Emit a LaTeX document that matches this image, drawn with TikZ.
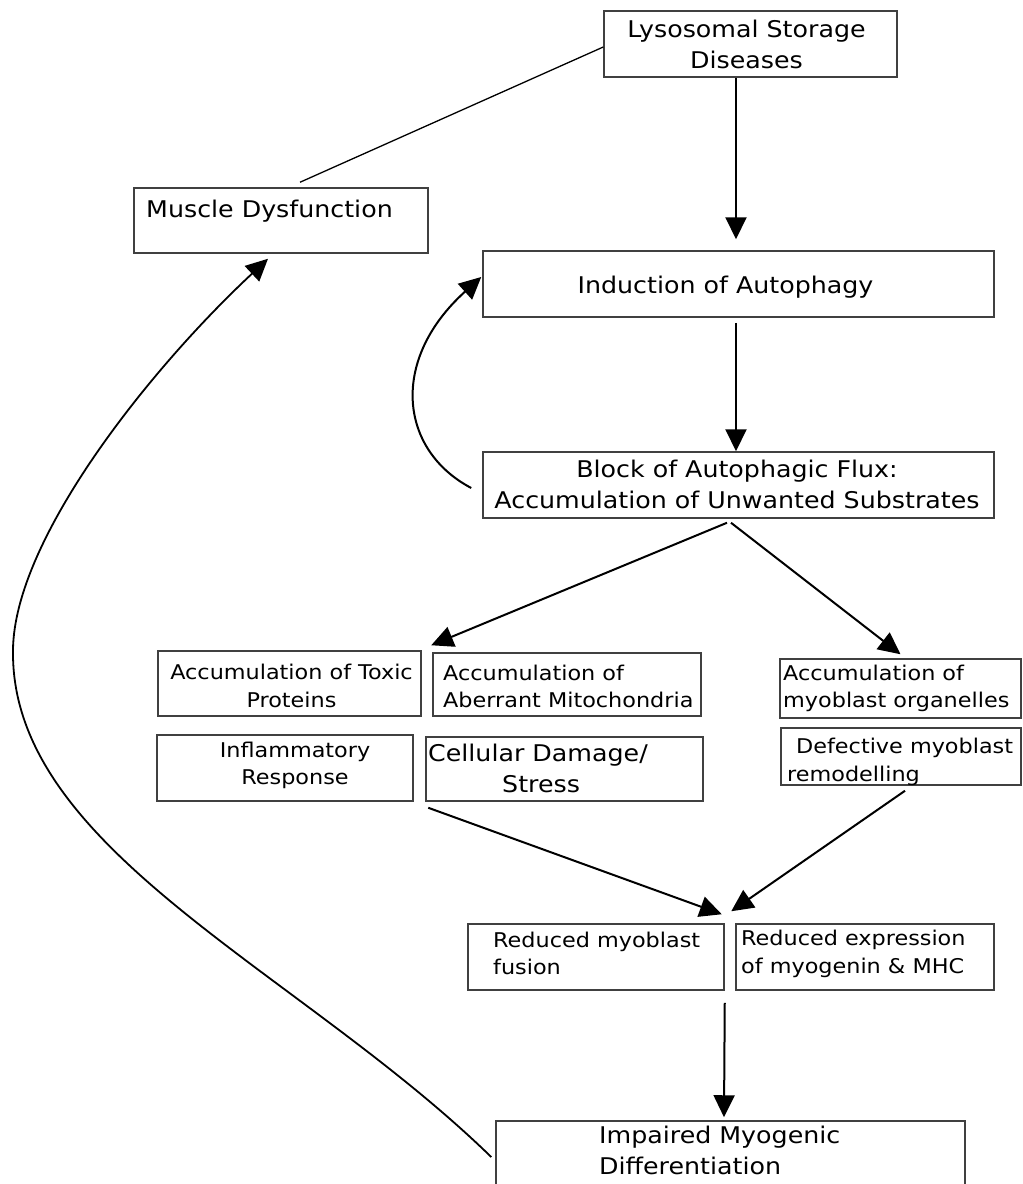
\documentclass[tikz,border=0pt]{standalone}
\usepackage{fontspec}
\setmainfont{DejaVu Sans}[FakeStretch=1.1]
\usetikzlibrary{arrows.meta}
\newcommand\fbig{\fontsize{23}{31}\selectfont}
\newcommand\fmed{\fontsize{20.3}{27.5}\selectfont}
\begin{document}
\begin{tikzpicture}[x=1pt,y=-1pt,
  box/.style={draw=black!75, line width=1.5pt, inner sep=0pt, fill=white},
  bigtxt/.style={inner sep=0pt, font=\fbig},
  medtxt/.style={inner sep=0pt, font=\fmed},
  arr/.style={line width=2pt, -{Triangle[length=22pt,width=21pt]}},
  plain/.style={line width=1.3pt}]
\useasboundingbox (0,0) rectangle (1023,1184);
\clip (0,0) rectangle (1023,1184);
\fill[white] (0,0) rectangle (1023,1184);

% boxes
\node[box, minimum width=293pt, minimum height=66pt] (lsd) at (750.5,44) {};
\node[box, minimum width=294pt, minimum height=65pt] (muscle) at (281,220.5) {};
\node[box, minimum width=511pt, minimum height=66pt] (induct) at (738.5,284) {};
\node[box, minimum width=511pt, minimum height=66pt] (block) at (738.5,485) {};
\node[box, minimum width=263pt, minimum height=65pt] (toxic) at (289.5,683.5) {};
\node[box, minimum width=268pt, minimum height=63pt] (aberr) at (567,684.5) {};
\node[box, minimum width=241pt, minimum height=59pt] (organ) at (900.5,688.5) {};
\node[box, minimum width=256pt, minimum height=66pt] (inflam) at (285,768) {};
\node[box, minimum width=277pt, minimum height=64pt] (cell) at (564.5,769) {};
\node[box, minimum width=240pt, minimum height=57pt] (defect) at (901,756.5) {};
\node[box, minimum width=256pt, minimum height=66pt] (fusion) at (596,957) {};
\node[box, minimum width=258pt, minimum height=66pt] (expr) at (865,957) {};
\node[box, minimum width=469pt, minimum height=79pt] (impair) at (730.5,1160.5) {};

% texts
\node[bigtxt, align=center] (lsdT) at (746.5,46.3) {Lysosomal Storage\strut\\Diseases\strut};
\node[bigtxt, anchor=west] (musT) at (146,211) {Muscle Dysfunction\strut};
\node[bigtxt] (indT) at (725.5,287) {Induction of Autophagy\strut};
\node[bigtxt, align=center] (blkT) at (737,487) {Block of Autophagic Flux:\strut\\Accumulation of Unwanted Substrates\strut};
\node[medtxt, align=center] (toxT) at (291.5,688) {Accumulation of Toxic\strut\\Proteins\strut};
\node[medtxt, align=left, anchor=west] (abT) at (443,688.6) {Accumulation of\strut\\Aberrant Mitochondria\strut};
\node[medtxt, align=left, anchor=west] (orgT) at (783,688.6) {Accumulation of\strut\\myoblast organelles\strut};
\node[medtxt, align=center] (infT) at (295,765.6) {Inflammatory\strut\\Response\strut};
\node[bigtxt, align=left, anchor=west] (celT) at (428,770.7) {Cellular Damage/\strut\\\hspace*{74pt}Stress\strut};
\node[medtxt, align=left, anchor=west] (defT) at (787,762) {\hspace*{9pt}Defective myoblast\strut\\remodelling\strut};
\node[medtxt, align=left, anchor=west] (fusT) at (493,955.4) {Reduced myoblast\strut\\fusion\strut};
\node[medtxt, align=left, anchor=west] (expT) at (741,954) {Reduced expression\strut\\of myogenin \& MHC\strut};
\node[bigtxt, align=left, anchor=west] (impT) at (599,1153) {Impaired Myogenic\strut\\Differentiation\strut};

% connectors
\draw[plain] ([yshift=-3pt]lsd.west) -- ([xshift=19pt,yshift=5pt]muscle.north);
\draw[arr] ([xshift=-14.5pt]lsd.south) -- ([xshift=-2.5pt,yshift=11pt]induct.north);
\draw[arr] ([xshift=-2.5pt,yshift=-5pt]induct.south) -- ([xshift=-2.5pt]block.north);
\draw[arr] ([xshift=-11pt,yshift=-3pt]block.west) .. controls +(-72,-38) and +(-92,83) .. ([xshift=-1pt,yshift=7pt]induct.west);
\draw[arr] ([xshift=-11.5pt,yshift=-4pt]block.south) -- ([xshift=-1pt,yshift=7pt]aberr.north west);
\draw[arr] ([xshift=-7.5pt,yshift=-4pt]block.south) -- ([yshift=4pt]organ.north);
\draw[arr] ([xshift=3pt,yshift=-6pt]cell.south west) -- ([xshift=-3pt,yshift=9pt]fusion.north east);
\draw[arr] ([xshift=4pt,yshift=-5pt]defect.south) -- ([xshift=-4pt,yshift=12pt]expr.north west);
\draw[arr] ([yshift=-12pt]fusion.south east) -- ([xshift=-6.5pt,yshift=3pt]impair.north);
\coordinate (bend) at (13,650);
\draw[arr, line width=1.8pt] ([xshift=-4pt,yshift=3.5pt]impair.west) .. controls +(-192,-187) and +(-3,200) .. (bend)
  .. controls +(1,-110) and +(-120,112) .. ([xshift=-13pt,yshift=-5pt]muscle.south);
\end{tikzpicture}
\end{document}
